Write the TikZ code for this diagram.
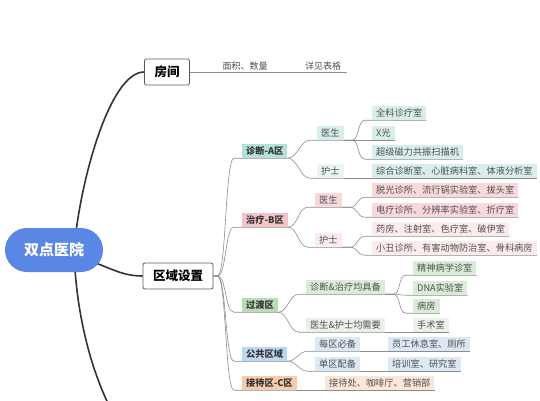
\documentclass[tikz,border=0pt]{standalone}
\usepackage{fontspec}
\setmainfont{Noto Sans CJK SC}
\usepackage{xcolor}
\usepackage{tikz}
\usetikzlibrary{backgrounds,calc}

\definecolor{hubblue}{HTML}{5A86E6}
\definecolor{trunkgray}{HTML}{333333}
\definecolor{lnkgray}{HTML}{8C8C8C}
\definecolor{txtgray}{HTML}{505050}
\definecolor{tealA}{HTML}{B4DFDA}
\definecolor{tealB}{HTML}{D7EEEB}
\definecolor{tealC}{HTML}{EAF6F4}
\definecolor{pinkA}{HTML}{F3C3C7}
\definecolor{pinkB}{HTML}{F8D8DB}
\definecolor{pinkC}{HTML}{FCEBEC}
\definecolor{greenA}{HTML}{B8DDB6}
\definecolor{greenB}{HTML}{D8ECD6}
\definecolor{greenC}{HTML}{E8F2E6}
\definecolor{blueA}{HTML}{BDD7EE}
\definecolor{blueB}{HTML}{DCE8F4}
\definecolor{orangeA}{HTML}{F8CBAD}
\definecolor{orangeB}{HTML}{FCE6D8}

\tikzset{
  hub/.style={fill=hubblue, text=white, rounded corners=22pt, minimum width=98pt, minimum height=44pt, font=\fontsize{15}{15}\selectfont\bfseries},
  topic/.style={draw=black!65, fill=white, line width=0.8pt, rounded corners=2pt, minimum height=26pt, inner xsep=10pt, font=\fontsize{12.5}{12.5}\selectfont\bfseries},
  zone/.style={fill=#1, anchor=west, minimum height=14pt, inner xsep=4pt, inner ysep=1pt, text=black!80, font=\fontsize{9.2}{9.2}\selectfont\bfseries},
  sub/.style={fill=#1, anchor=west, minimum height=14pt, inner xsep=4pt, inner ysep=1pt, text=txtgray, font=\fontsize{9.2}{9.2}\selectfont},
  leaf/.style={sub=#1},
  note/.style={anchor=south, inner sep=2pt, text=txtgray, font=\fontsize{9}{9}\selectfont},
  trunk/.style={draw=trunkgray, line width=1.6pt},
  lnk/.style={draw=lnkgray, line width=0.6pt},
}

\begin{document}
\begin{tikzpicture}[x=1pt,y=-1pt]
\useasboundingbox (0,0) rectangle (540,400);

\node[hub] (hosp) at (54,250) {双点医院};
\node[topic] (rooms) at (167,72) {房间};
\node[topic] (zones) at (178,276) {区域设置};
\node[note] (area) at (245,72) {面积、数量};
\node[note] (table) at (323,72) {详见表格};
\coordinate (more) at (140,455);

\node[zone=tealA] (za) at (242,151) {诊断-A区};
\node[zone=pinkA] (zb) at (242,220) {治疗-B区};
\node[zone=greenA] (zt) at (242,305) {过渡区};
\node[zone=blueA] (zp) at (242,354) {公共区域};
\node[zone=orangeA] (zc) at (242,383) {接待区-C区};

\node[sub=tealB] (adoc) at (317,133) {医生};
\node[sub=tealC] (anur) at (317,171) {护士};
\node[sub=pinkB] (bdoc) at (315,200) {医生};
\node[sub=pinkC] (bnur) at (315,240) {护士};
\node[sub=greenB] (tboth) at (306,287) {诊断\&治疗均具备};
\node[sub=greenC] (tall) at (306,325) {医生\&护士均需要};
\node[sub=blueB] (pev) at (315,344) {每区必备};
\node[sub=blueB] (pone) at (315,364) {单区配备};
\node[sub=orangeB] (crec) at (325,383) {接待处、咖啡厅、营销部};

\node[leaf=tealB] (a1) at (372,113) {全科诊疗室};
\node[leaf=tealB] (a2) at (372,133) {X光};
\node[leaf=tealB] (a3) at (372,152) {超级磁力共振扫描机};
\node[leaf=tealB] (a4) at (372,171) {综合诊断室、心脏病科室、体液分析室};
\node[leaf=pinkB] (b1) at (372,190) {脱光诊所、流行锅实验室、拔头室};
\node[leaf=pinkB] (b2) at (372,210) {电疗诊所、分辨率实验室、折疗室};
\node[leaf=pinkC] (b3) at (372,229) {药房、注射室、色疗室、破伊室};
\node[leaf=pinkC] (b4) at (372,248) {小丑诊所、有害动物防治室、骨科病房};
\node[leaf=greenB] (t1) at (413,268) {精神病学诊室};
\node[leaf=greenB] (t2) at (413,288) {DNA实验室};
\node[leaf=greenB] (t3) at (413,306) {病房};
\node[leaf=greenC] (t4) at (413,325) {手术室};
\node[leaf=blueB] (p1) at (388,344) {员工休息室、厕所};
\node[leaf=blueB] (p2) at (388,364) {培训室、研究室};

\begin{scope}[on background layer]
\draw[trunk] ([xshift=20pt]hosp.center) .. controls (80,180) and (110,72) .. (rooms.west);
\draw[trunk] (hosp.center) .. controls (105,262) and (115,276) .. (zones.west);
\draw[trunk] ([xshift=20pt]hosp.center) .. controls (76,320) and (95,400) .. (more);
\draw[lnk] (rooms.east) -- ([xshift=4pt]table.south east);

\foreach \c in {za,zb,zt,zp,zc}
  \draw[lnk] (zones.east) -- ++(4,0) .. controls +(9,0) and +(-9,0) .. ([xshift=-8pt]\c.south west) -- (\c.south east);

\foreach \p/\c in {za/adoc, za/anur, zb/bdoc, zb/bnur, zt/tboth, zt/tall, zp/pev, zp/pone, zc/crec}
  \draw[lnk] (\p.south east) .. controls +(10,0) and +(-10,0) .. ([xshift=-7pt]\c.south west) -- (\c.south east);

\foreach \p/\c in {adoc/a1, adoc/a2, adoc/a3, anur/a4, bdoc/b1, bdoc/b2, bnur/b3, bnur/b4, tboth/t1, tboth/t2, tboth/t3, tall/t4, pev/p1, pone/p2}
  \draw[lnk] (\p.south east) -- ++(8,0) .. controls +(8,0) and +(-8,0) .. ([xshift=-7pt]\c.south west) -- (\c.south east);
\end{scope}

\end{tikzpicture}
\end{document}
